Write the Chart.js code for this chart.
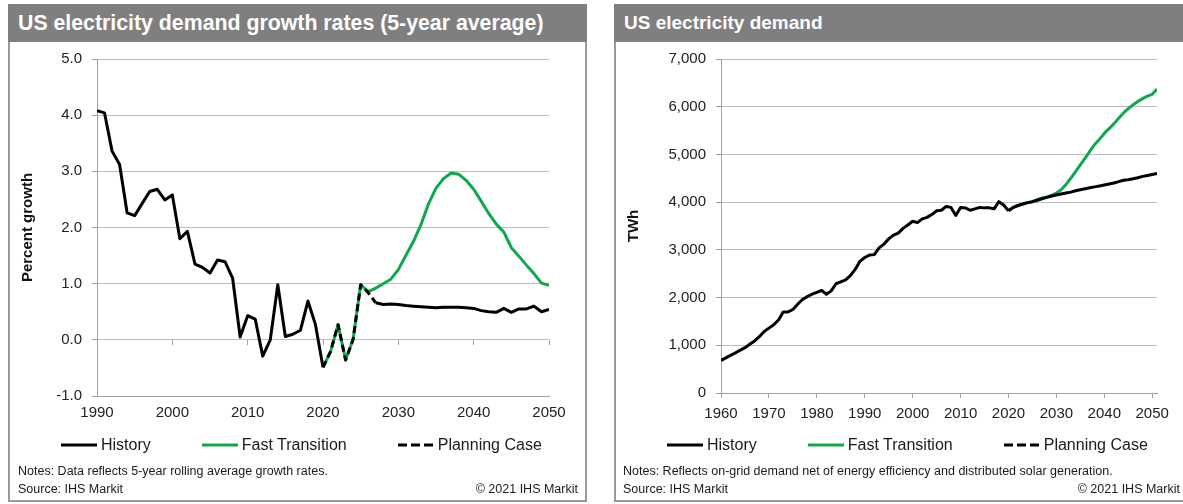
<!DOCTYPE html>
<html>
<head>
<meta charset="utf-8">
<script src="https://cdn.jsdelivr.net/npm/chart.js@4.4.1/dist/chart.umd.min.js"></script>
<style>
  body { margin: 0; width: 1183px; height: 504px; overflow: hidden; position: relative; background: #fff;
         font-family: "Liberation Sans", Arial, sans-serif; color: #1a1a1a; }
  .panel { position: absolute; top: 4px; height: 498px; box-sizing: border-box; border: 2px solid #9a9a9a; border-top: none; }
  .head { position: absolute; top: 4px; height: 38px; line-height: 38px; background: #7f7f7f; color: #fff;
          font-weight: bold; font-size: 19px; padding-left: 10px; box-sizing: border-box; white-space: nowrap; }
  .box { position: absolute; top: 40px; height: 399px; }
  .legend { position: absolute; top: 436px; height: 18px; display: flex; align-items: center; font-size: 16px; white-space: nowrap; }
  .legend .item { display: flex; align-items: center; }
  .legend .item + .item { margin-left: 51px; }
  .legend svg { margin-right: 4px; }
  .note { position: absolute; font-size: 12.5px; line-height: 15px; white-space: nowrap; }
</style>
</head>
<body>
<div class="panel" style="left:8px;width:579px"></div>
<div class="head" style="left:8px;width:579px;font-size:21.3px">US electricity demand growth rates (5-year average)</div>
<div class="box" style="left:11px;width:573px"><canvas id="growthChart"></canvas></div>
<div class="legend" id="growthLegend" style="left:61px"></div>
<div class="note" style="left:18px;top:464px">Notes: Data reflects 5-year rolling average growth rates.</div>
<div class="note" style="left:18px;top:482px">Source: IHS Markit</div>
<div class="note" style="right:605px;top:482px">© 2021 IHS Markit</div>

<div class="panel" style="left:614px;width:590px"></div>
<div class="head" style="left:614px;width:590px">US electricity demand</div>
<div class="box" style="left:617px;width:566px"><canvas id="demandChart"></canvas></div>
<div class="legend" id="demandLegend" style="left:667px"></div>
<div class="note" style="left:623px;top:464px">Notes: Reflects on-grid demand net of energy efficiency and distributed solar generation.</div>
<div class="note" style="left:623px;top:482px">Source: IHS Markit</div>
<div class="note" style="right:3px;top:482px">© 2021 IHS Markit</div>

<script>
// series names
const seriesNames = ["History", "Fast Transition", "Planning Case"];

// growth rates (%), 5-year rolling average
const growthHistStart = 1990;
const growthHistory = [4.08, 4.04, 3.36, 3.12, 2.26, 2.21, 2.43, 2.64, 2.68, 2.49,
  2.58, 1.80, 1.93, 1.35, 1.29, 1.19, 1.42, 1.39, 1.10, 0.05,
  0.43, 0.37, -0.29, 0.00, 0.98, 0.06, 0.10, 0.17, 0.69, 0.27,
  -0.49];
const growthCaseStart = 2020;
const growthFast = [-0.49, -0.21, 0.27, -0.36, 0.01, 0.98, 0.86, 0.92, 1.00, 1.08,
  1.25, 1.50, 1.75, 2.05, 2.42, 2.70, 2.87, 2.97, 2.95, 2.84,
  2.68, 2.47, 2.25, 2.06, 1.92, 1.64, 1.49, 1.33, 1.18, 1.01,
  0.97];
const growthPlanning = [-0.49, -0.21, 0.27, -0.36, 0.01, 0.98, 0.84, 0.66, 0.63, 0.64,
  0.63, 0.61, 0.60, 0.59, 0.58, 0.57, 0.58, 0.58, 0.58, 0.57,
  0.56, 0.52, 0.50, 0.49, 0.56, 0.49, 0.55, 0.55, 0.60, 0.50,
  0.54];
const growthYearTicks = [1990, 2000, 2010, 2020, 2030, 2040, 2050];
const growthValueTicks = [-1, 0, 1, 2, 3, 4, 5];

// demand (TWh)
const demandHistStart = 1960;
const demandHistory = [680, 735, 790, 840, 895, 950, 1020, 1090, 1180, 1290,
  1360, 1430, 1530, 1700, 1700, 1750, 1860, 1960, 2020, 2070,
  2110, 2150, 2070, 2140, 2290, 2330, 2370, 2460, 2590, 2760,
  2840, 2890, 2900, 3040, 3120, 3230, 3310, 3350, 3450, 3520,
  3600, 3570, 3650, 3680, 3740, 3820, 3830, 3910, 3890, 3720,
  3890, 3880, 3830, 3860, 3890, 3880, 3880, 3860, 4010, 3940,
  3820];
const demandCaseStart = 2020;
const demandFast = [3820, 3890, 3930, 3960, 3990, 4010, 4050, 4090, 4110, 4140,
  4190, 4260, 4370, 4500, 4640, 4780, 4920, 5070, 5210, 5320,
  5440, 5540, 5640, 5760, 5870, 5960, 6040, 6110, 6170, 6220,
  6260, 6370];
const demandPlanning = [3820, 3890, 3930, 3960, 3990, 4010, 4040, 4070, 4100, 4130,
  4150, 4170, 4190, 4210, 4240, 4260, 4280, 4300, 4320, 4340,
  4360, 4380, 4400, 4430, 4460, 4470, 4490, 4510, 4540, 4560,
  4580, 4600];
const demandYearTicks = [1960, 1970, 1980, 1990, 2000, 2010, 2020, 2030, 2040, 2050];
const demandValueTicks = [0, 1000, 2000, 3000, 4000, 5000, 6000, 7000];

const GREEN = "#10a84e";
const GRID = "#bdbdbd";
const AXIS = "#a0a0a0";
const tickFont = { family: "Liberation Sans", size: 15 };

function toPoints(start, values) {
  return values.map((v, i) => ({ x: start + i, y: v }));
}

// dashed while the planning case sits on top of the green line
function makeDatasets(histStart, hist, caseStart, fast, plan, dashUntil) {
  return [
    { label: seriesNames[0], data: toPoints(histStart, hist), borderColor: "#000", borderWidth: 3, order: 1 },
    { label: seriesNames[1], data: toPoints(caseStart, fast), borderColor: GREEN, borderWidth: 3, order: 2 },
    { label: seriesNames[2], data: toPoints(caseStart, plan), borderColor: "#000", borderWidth: 3, order: 0,
      legendDash: [9, 4],
      segment: { borderDash: ctx => ctx.p1.parsed.x <= dashUntil ? [7, 4] : [] } }
  ];
}

function yScale(ticks, fmt, title) {
  return {
    min: ticks[0], max: ticks[ticks.length - 1],
    afterBuildTicks: s => { s.ticks = ticks.map(v => ({ value: v })); },
    ticks: { font: tickFont, color: "#222", padding: 10, callback: fmt },
    grid: { color: GRID, lineWidth: 1, tickLength: 5, tickColor: AXIS },
    border: { color: AXIS },
    title: { display: true, text: title, color: "#111", font: { family: "Liberation Sans", size: 15, weight: "bold" }, padding: { top: 8, bottom: 0 } }
  };
}

function xScale(min, max, ticks, withMarks) {
  return {
    type: "linear", min: min, max: max,
    afterBuildTicks: s => { s.ticks = ticks.map(v => ({ value: v })); },
    ticks: { font: tickFont, color: "#222", padding: withMarks ? 7 : 8, maxRotation: 0, autoSkip: false, callback: v => String(v) },
    grid: { drawOnChartArea: false, drawTicks: withMarks, tickLength: 5, color: AXIS },
    border: { color: AXIS }
  };
}

function baseOptions(scales, padRight) {
  return {
    responsive: true, maintainAspectRatio: false, animation: false,
    layout: { padding: { top: 4, right: padRight, bottom: 9, left: 0 } },
    elements: { point: { radius: 0 }, line: { tension: 0, borderJoinStyle: "round" } },
    plugins: { legend: { display: false }, tooltip: { enabled: false } },
    scales: scales
  };
}

// left chart
const gY = yScale(growthValueTicks, v => v.toFixed(1), "Percent growth");
gY.afterFit = s => { s.width = 86; };
const gX = xScale(1990, 2050, growthYearTicks, false);
// tick marks sit on the zero line
const gX0 = {
  type: "linear", min: 1990, max: 2050, position: { y: 0 },
  afterBuildTicks: s => { s.ticks = growthYearTicks.map(v => ({ value: v })); },
  ticks: { display: false },
  grid: { drawOnChartArea: false, drawTicks: true, tickLength: 5, color: AXIS },
  border: { display: false }
};
const growthChart = new Chart(document.getElementById("growthChart"), {
  type: "line",
  data: { datasets: makeDatasets(growthHistStart, growthHistory, growthCaseStart, growthFast, growthPlanning, 2027) },
  options: baseOptions({ x: gX, x0: gX0, y: gY }, 35)
});

// right chart
const dY = yScale(demandValueTicks, v => v.toLocaleString("en-US"), "TWh");
dY.afterFit = s => { s.width = 104; };
const demandChart = new Chart(document.getElementById("demandChart"), {
  type: "line",
  data: { datasets: makeDatasets(demandHistStart, demandHistory, demandCaseStart, demandFast, demandPlanning, 2019) },
  options: baseOptions({ x: xScale(1960, 2051, demandYearTicks, true), y: dY }, 26)
});

// legends
function buildLegend(id, chart) {
  const el = document.getElementById(id);
  chart.data.datasets.forEach(ds => {
    const item = document.createElement("div");
    item.className = "item";
    const dash = ds.legendDash ? ` stroke-dasharray="${ds.legendDash.join(",")}"` : "";
    item.innerHTML = `<svg width="36" height="10"><line x1="0" y1="5" x2="36" y2="5" stroke="${ds.borderColor}" stroke-width="3"${dash}/></svg><span>${ds.label}</span>`;
    el.appendChild(item);
  });
}
buildLegend("growthLegend", growthChart);
buildLegend("demandLegend", demandChart);
</script>
</body>
</html>
